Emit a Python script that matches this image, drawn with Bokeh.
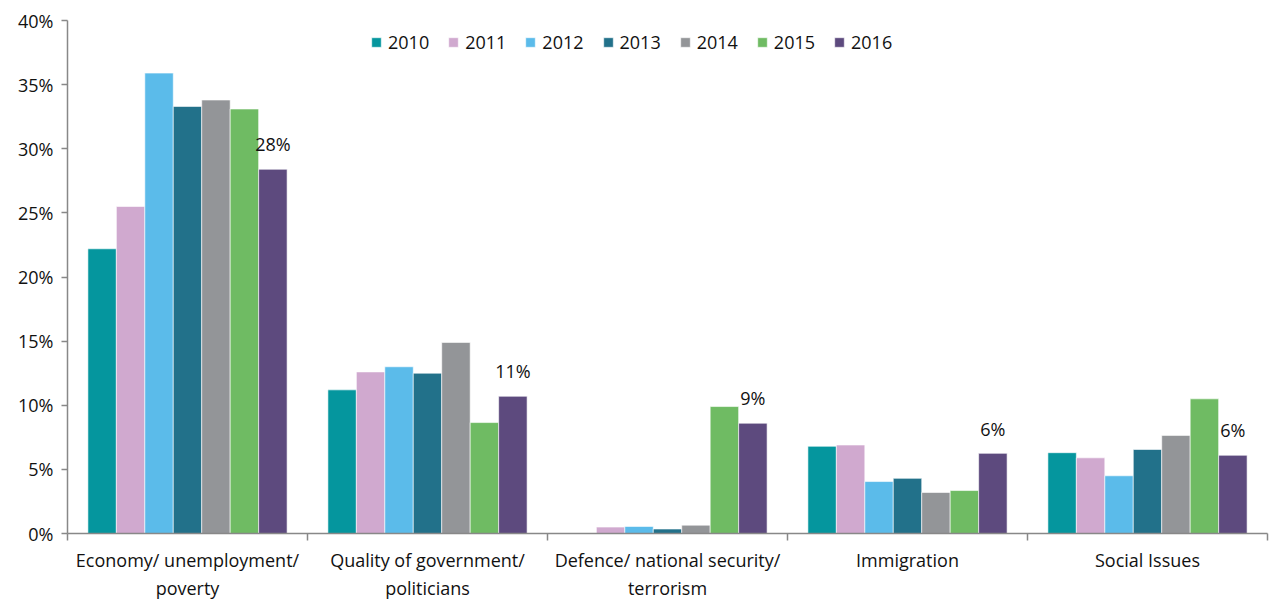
from bokeh.plotting import figure
from bokeh.models import ColumnDataSource, Range1d, FixedTicker, Legend, LegendItem
from bokeh.core.properties import value
from bokeh.embed import file_html
from bokeh.resources import INLINE

categories = ["Economy/ unemployment/\npoverty", "Quality of government/\npoliticians",
              "Defence/ national security/\nterrorism", "Immigration", "Social Issues"]
years = ["2010", "2011", "2012", "2013", "2014", "2015", "2016"]
v2010 = [22.2, 11.2, 0.0, 6.8, 6.3]
v2011 = [25.5, 12.6, 0.5, 6.9, 5.9]
v2012 = [35.9, 13.0, 0.55, 4.05, 4.5]
v2013 = [33.3, 12.5, 0.35, 4.3, 6.55]
v2014 = [33.8, 14.9, 0.65, 3.2, 7.65]
v2015 = [33.1, 8.65, 9.9, 3.35, 10.5]
v2016 = [28.4, 10.7, 8.6, 6.25, 6.1]
series = [v2010, v2011, v2012, v2013, v2014, v2015, v2016]
colors = ["#05969e", "#d0a9cf", "#5bbbea", "#22718a", "#939598", "#6fbb63", "#5d4a7e"]
y_ticks = [0, 5, 10, 15, 20, 25, 30, 35, 40]

FONT = "Open Sans"
FS = "18px"
TXT = "#111111"
n = len(categories)
bw = 0.83 / len(years)

p = figure(frame_width=1200, frame_height=513, output_backend="svg", toolbar_location=None,
           x_range=Range1d(0, n), y_range=Range1d(0, 40),
           min_border_left=67, min_border_right=2, min_border_top=20, min_border_bottom=0)
p.outline_line_color = None
p.xgrid.grid_line_color = None
p.ygrid.grid_line_color = None

items = []
for i, (yr, vals, col) in enumerate(zip(years, series, colors)):
    xs = [g + 0.5 + (i - 3) * bw for g in range(n)]
    src = ColumnDataSource(dict(x=xs, top=vals))
    r = p.vbar(x="x", top="top", width=bw, bottom=0, source=src,
               fill_color=col, line_color="white", line_width=0.6)
    items.append(LegendItem(label=yr, renderers=[r]))

# labels on 2016 bars
lab_x = [g + 0.5 + 3 * bw for g in range(n)]
lab_y = [v + 1.0 for v in v2016]
lab_t = [f"{round(v)}%" for v in v2016]
p.text(x=lab_x, y=lab_y, text=lab_t, text_align="center", text_baseline="bottom",
       text_font=value(FONT), text_font_size=FS, text_color=TXT)

legend = Legend(items=items, orientation="horizontal", location=(301, 476),
                glyph_width=12, glyph_height=12, label_standoff=6, spacing=18,
                label_width=40, label_height=26,
                padding=2, margin=0, border_line_alpha=0, background_fill_alpha=0,
                label_text_font=FONT, label_text_font_size=FS, label_text_color=TXT)
p.add_layout(legend)

axis_col = "#888888"
xa = p.xaxis[0]
xa.ticker = FixedTicker(ticks=[g + 0.5 for g in range(n)], minor_ticks=list(range(n + 1)))
xa.major_label_overrides = {g + 0.5: c for g, c in enumerate(categories)}
xa.major_tick_out = 0
xa.major_tick_in = 0
xa.minor_tick_out = 7
xa.minor_tick_in = 0
xa.minor_tick_line_color = axis_col
xa.axis_line_color = axis_col
xa.axis_line_width = 1.5
xa.minor_tick_line_width = 1.5
xa.major_label_standoff = 7
xa.major_label_text_font = FONT
xa.major_label_text_font_size = FS
xa.major_label_text_color = TXT
xa.major_label_text_line_height = 1.2

ya = p.yaxis[0]
ya.ticker = FixedTicker(ticks=y_ticks)
ya.major_label_overrides = {t: f"{t}%" for t in y_ticks}
ya.major_tick_out = 6
ya.major_tick_in = 0
ya.minor_tick_out = 0
ya.minor_tick_in = 0
ya.major_tick_line_color = axis_col
ya.axis_line_color = axis_col
ya.axis_line_width = 1.5
ya.major_tick_line_width = 1.5
ya.major_label_standoff = 8
ya.major_label_text_font = FONT
ya.major_label_text_font_size = FS
ya.major_label_text_color = TXT

open("out.html", "w").write(file_html(p, INLINE))
